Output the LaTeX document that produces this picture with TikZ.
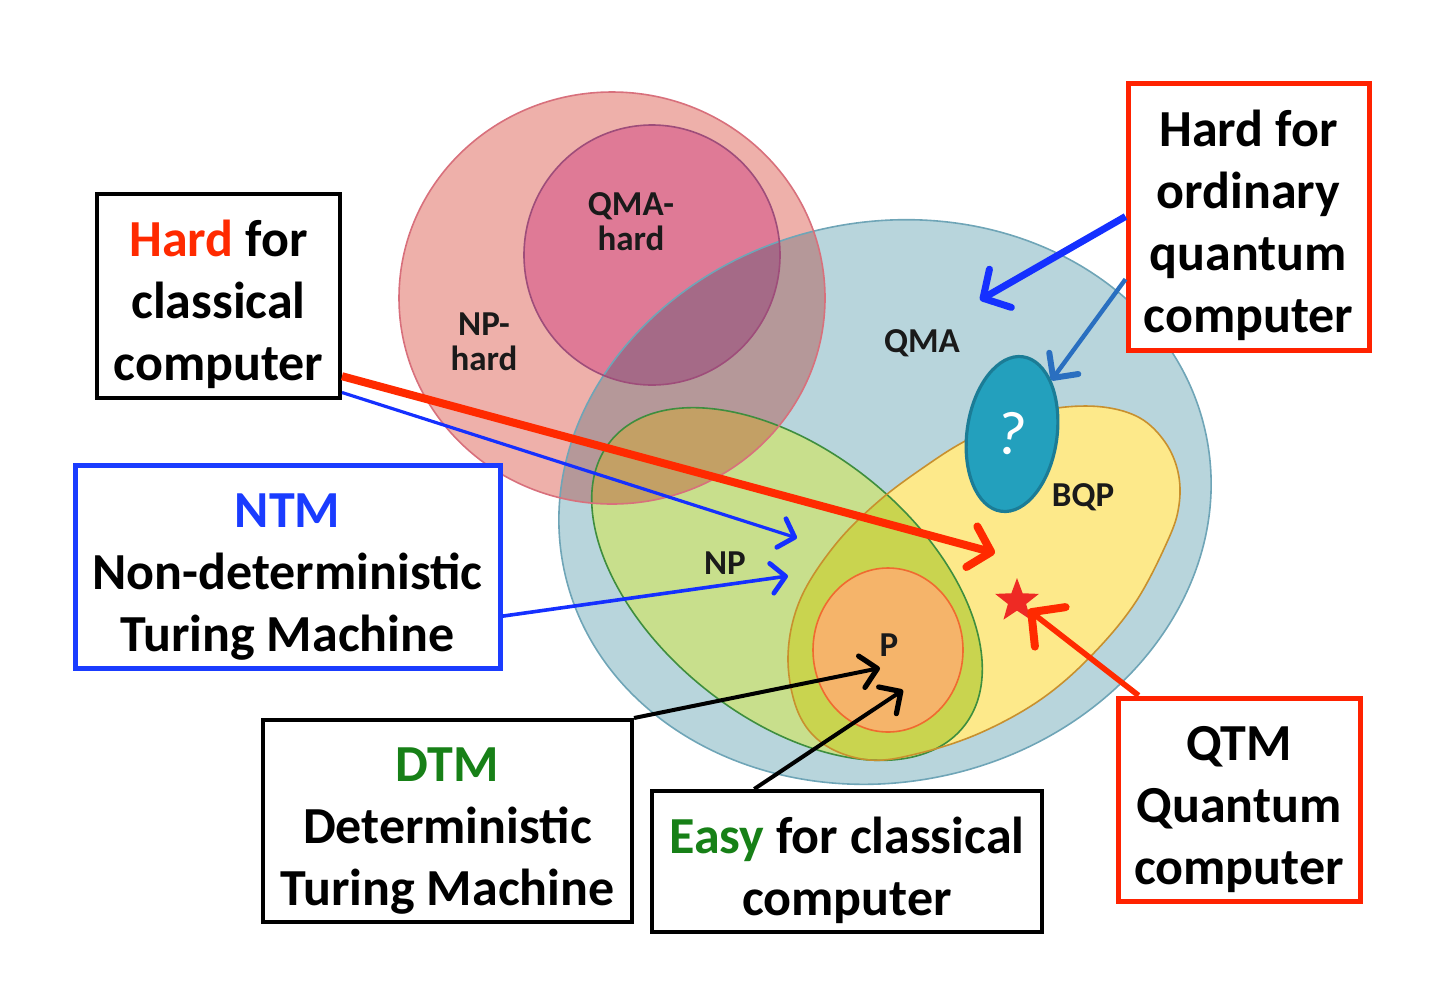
\documentclass[tikz,border=0pt]{standalone}
\usepackage{fontspec}
\setmainfont{Carlito}
\usetikzlibrary{arrows.meta,shapes.geometric}
\definecolor{blueF}{HTML}{B8D5DC}
\definecolor{blueL}{HTML}{6FA5B7}
\definecolor{pinkF}{HTML}{EEB0AA}
\definecolor{pinkL}{HTML}{D8707C}
\definecolor{qmahF}{HTML}{DF7A96}
\definecolor{qmahL}{HTML}{9E4D7A}
\definecolor{mauveF}{HTML}{B59899}
\definecolor{purpF}{HTML}{A56A87}
\definecolor{tanF}{HTML}{C3A065}
\definecolor{greenF}{HTML}{C8DF8C}
\definecolor{greenL}{HTML}{3E8E3E}
\definecolor{yellowF}{HTML}{FDE98A}
\definecolor{yellowL}{HTML}{C8902E}
\definecolor{npbqpF}{HTML}{C9D44F}
\definecolor{orangeF}{HTML}{F5B46A}
\definecolor{orangeL}{HTML}{F06A30}
\definecolor{qeF}{HTML}{23A0BD}
\definecolor{qeL}{HTML}{1B7C96}
\definecolor{starF}{HTML}{EE2A24}
\definecolor{hardred}{HTML}{FF2A00}
\definecolor{ntmblue}{HTML}{1A3CFF}
\definecolor{dtmgreen}{HTML}{178017}
\definecolor{boxred}{HTML}{FF2200}
\definecolor{arrblue}{HTML}{1530FF}
\definecolor{steelA}{HTML}{2A6FC0}
\definecolor{labK}{HTML}{1A1A1A}
\newcommand\boxfont{\fontsize{26}{31}\selectfont\bfseries}
\newcommand\labfont{\fontsize{17.5}{17.5}\selectfont\bfseries}
\newcommand\tstrut{\rule{0pt}{27pt}}
\def\pQMA{(885,502) ellipse [x radius=164pt, y radius=140pt]}
\def\pNP{(787,584) ellipse [x radius=113.5pt, y radius=66.5pt]}
\def\pNPH{(612,298) ellipse [x radius=106.5pt, y radius=103pt]}
\def\pQH{(652,255) ellipse [x radius=64pt, y radius=65pt]}
\def\pP{(888,650) ellipse [x radius=37.5pt, y radius=41pt]}
\def\pBQP{plot[smooth cycle, tension=0.6] coordinates {(788,657) (800,600) (835,545) (880,500) (930,463) (967,440) (1010,420) (1057,408) (1103,407) (1140,418) (1165,442) (1178,472) (1179,505) (1168,540) (1135,603) (1090,657) (1040,700) (980,733) (920,753) (870,760) (825,745) (798,712)}}
\tikzset{
  qmatr/.style={rotate around={12:(885,502)}},
  nptr/.style={rotate around={-39:(787,584)}},
  outl/.style={line width=0.8pt},
  box/.style={draw=#1, fill=white, inner sep=0pt, align=center, font=\boxfont},
  lab/.style={inner sep=0pt, align=center, font=\labfont, text=labK},
}
\begin{document}
\begin{tikzpicture}[x=0.5pt, y=-0.5pt]
\useasboundingbox (0,0) rectangle (1439,981);
% fills
\fill[blueF, qmatr] \pQMA;
\fill[greenF, nptr] \pNP;
\fill[yellowF] \pBQP;
\begin{scope}
  \clip[nptr] \pNP;
  \fill[npbqpF] \pBQP;
\end{scope}
\fill[orangeF] \pP;
\fill[pinkF] \pNPH;
\begin{scope}
  \clip \pNPH;
  \fill[mauveF, qmatr] \pQMA;
  \fill[tanF, nptr] \pNP;
\end{scope}
\fill[qmahF] \pQH;
\begin{scope}
  \clip \pQH;
  \fill[purpF, qmatr] \pQMA;
\end{scope}
% outlines
\draw[outl, blueL, qmatr] \pQMA;
\draw[outl, greenL, nptr] \pNP;
\draw[outl, yellowL] \pBQP;
\draw[outl, orangeL] \pP;
\draw[outl, pinkL] \pNPH;
\draw[outl, qmahL] \pQH;
% question ellipse and star
\node[ellipse, draw=qeL, line width=1.6pt, fill=qeF, rotate=-8, minimum width=45pt, minimum height=78pt, inner sep=0pt, text=white, font=\fontsize{31}{31}\selectfont] (qe) at (1012,434) {?};
\node[star, star points=5, star point ratio=2.4, fill=starF, minimum size=23pt, inner sep=0pt] (star) at (1017,601) {};
% labels
\node[lab] (lqh) at (631,222) {QMA-\\hard};
\node[lab] (lnph) at (484,342) {NP-\\hard};
\node[lab] (lqma) at (922,343) {QMA};
\node[lab] (lnp) at (725,563) {NP};
\node[lab] (lbqp) at (1083,497) {BQP};
\node[lab] (lp) at (889,645) {P};
% boxes
\node[box=black, line width=2pt, minimum width=121.5pt, minimum height=102pt] (hc) at (218.5,296) {\tstrut\textcolor{hardred}{Hard} for\\classical\\computer};
\node[box=ntmblue, line width=2.5pt, minimum width=212.5pt, minimum height=101.5pt] (ntm) at (287.5,566.5) {\tstrut\textcolor{ntmblue}{NTM}\\Non-deterministic\\Turing Machine};
\node[box=boxred, line width=2.5pt, minimum width=120.5pt, minimum height=133.5pt] (hq) at (1248.5,216.5) {\tstrut Hard for\\ordinary\\quantum\\computer};
\node[box=black, line width=2pt, minimum width=184.5pt, minimum height=101pt] (dtm) at (447.5,821) {\tstrut\textcolor{dtmgreen}{DTM}\\Deterministic\\Turing Machine};
\node[box=black, line width=2pt, minimum width=195pt, minimum height=70.5pt] (easy) at (847,861.5) {\tstrut\textcolor{dtmgreen}{Easy} for classical\\computer};
\node[box=boxred, line width=2.5pt, minimum width=121pt, minimum height=101.5pt] (qtm) at (1239,799.5) {\tstrut QTM\\Quantum\\computer};
% arrow end points
\coordinate (ea) at (995,553);
\coordinate (eb) at (797,538);
\coordinate (ec) at (788,576);
\coordinate (ed) at (880,668);
\coordinate (ee) at (903,690);
\coordinate (ef) at (980,300);
% arrows
\draw[hardred, line width=4pt, -{Straight Barb[length=10pt, width=21pt, round]}] (hc.-33) -- (ea);
\draw[arrblue, line width=1.6pt, -{Straight Barb[length=7pt, width=15pt, line width=2.4pt, round]}] (hc.-38) -- (eb);
\draw[arrblue, line width=1.8pt, -{Straight Barb[length=7pt, width=15pt, line width=2.4pt, round]}] (ntm.-13) -- (ec);
\draw[black, line width=2pt, -{Straight Barb[length=8pt, width=16pt, line width=2.6pt, round]}] (dtm.north east) -- (ed);
\draw[black, line width=2pt, -{Straight Barb[length=8pt, width=16pt, line width=2.6pt, round]}] (easy.142) -- (ee);
\draw[arrblue, line width=3.5pt, -{Straight Barb[length=10pt, width=22pt, round]}] (hq.west) -- (ef);
\draw[steelA, line width=2.2pt, -{Straight Barb[length=9pt, width=18pt, line width=3pt, round]}] (hq.207) -- (qe);
\draw[hardred, line width=2.8pt, -{Straight Barb[length=12pt, width=25pt, line width=4pt, round]}] (qtm.134) -- (star);
\end{tikzpicture}
\end{document}
